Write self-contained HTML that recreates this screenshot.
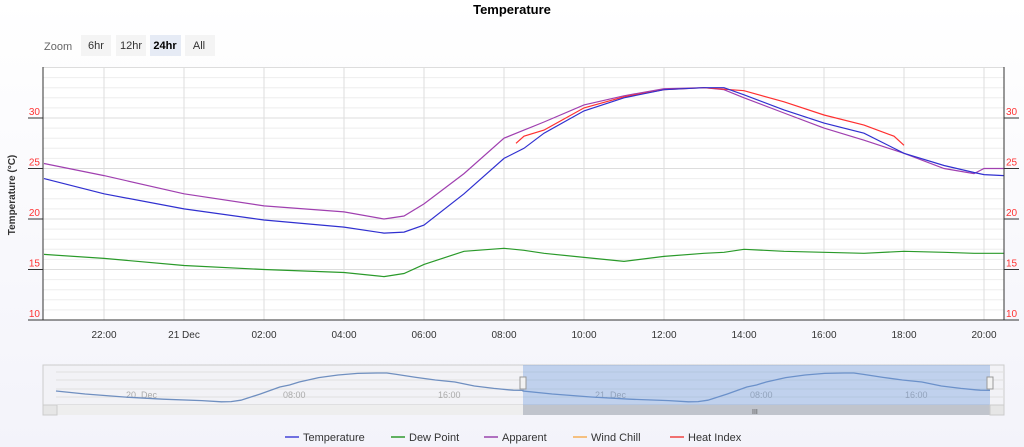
<!DOCTYPE html>
<html><head><meta charset="utf-8"><style>
body{margin:0;width:1024px;height:447px;background:linear-gradient(#fff,#f3f3fa);font-family:"Liberation Sans",sans-serif;overflow:hidden}
svg{position:absolute;left:0;top:0}
</style></head><body>
<svg width="1024" height="447" id="c">
<defs><clipPath id="pc"><rect x="43" y="67" width="961" height="253"/></clipPath></defs>
<text x="512" y="14" text-anchor="middle" font-size="13" font-weight="bold" fill="#000">Temperature</text>
<text x="44" y="50" font-size="11" fill="#666">Zoom</text>
<g><rect x="81" y="35" width="30" height="21" fill="#f4f4f4"/><text x="96" y="49" text-anchor="middle" font-size="11" fill="#333">6hr</text></g>
<g><rect x="116" y="35" width="30" height="21" fill="#f4f4f4"/><text x="131" y="49" text-anchor="middle" font-size="11" fill="#333">12hr</text></g>
<g><rect x="150" y="35" width="31" height="21" fill="#e6ebf5"/><text x="165" y="49" text-anchor="middle" font-size="11" font-weight="bold" fill="#000">24hr</text></g>
<g><rect x="185" y="35" width="30" height="21" fill="#f4f4f4"/><text x="199" y="49" text-anchor="middle" font-size="11" fill="#333">All</text></g>
<rect x="43" y="67" width="961" height="253" fill="#fff"/>
<g id="grid"></g><g id="series" clip-path="url(#pc)"></g><g id="axes"></g>
<text transform="translate(15,195) rotate(-90)" text-anchor="middle" font-size="10" font-weight="bold" fill="#333">Temperature (°C)</text>
<g>
<rect x="43" y="365" width="961" height="40" fill="#f2f2f6" stroke="#ccc"/>
<g stroke="#e0e0e0"><line x1="56" y1="372" x2="1004" y2="372"/><line x1="56" y1="380" x2="1004" y2="380"/><line x1="56" y1="389" x2="1004" y2="389"/><line x1="56" y1="397" x2="1004" y2="397"/></g>
<g font-size="9" fill="#aaa"><text x="126" y="398">20. Dec</text><text x="283" y="398">08:00</text><text x="438" y="398">16:00</text><text x="595" y="398">21. Dec</text><text x="750" y="398">08:00</text><text x="905" y="398">16:00</text></g>
<path id="navline" fill="none" stroke="#6f8fc0" stroke-width="1.3" clip-path="url(#nc)"/>
<clipPath id="nc"><rect x="43" y="365" width="961" height="40"/></clipPath>
<rect x="523" y="365" width="467" height="40" fill="rgba(100,150,220,0.35)"/>
<rect x="520" y="377" width="6" height="12" fill="#f2f2f2" stroke="#999"/>
<rect x="987" y="377" width="6" height="12" fill="#f2f2f2" stroke="#999"/>
<rect x="43" y="405" width="961" height="10" fill="#eee"/>
<rect x="523" y="405" width="467" height="10" fill="#c0c4cc"/>
<rect x="43" y="405" width="14" height="10" fill="#e6e6e6" stroke="#ccc"/><rect x="990" y="405" width="14" height="10" fill="#e6e6e6" stroke="#ccc"/>
<text x="752" y="414" font-size="7" fill="#555">III</text>
</g>
<g id="legend" font-size="11" fill="#333"></g>
</svg>
<script>
const hours=[20.5,22,24,26,28,29,29.5,30,31,32,32.5,33,34,35,36,37,37.5,38,39,40,41,42,43,43.75,44,44.5];
const temperature=[24,22.5,21,19.9,19.2,18.6,18.7,19.4,22.5,26,27,28.5,30.7,32,32.8,33,33,32.3,30.8,29.5,28.5,26.5,25.3,24.6,24.4,24.3];
const apparent=[25.5,24.3,22.5,21.3,20.7,20,20.3,21.5,24.5,28,28.8,29.6,31.3,32.2,32.9,33,32.8,32,30.5,29,27.8,26.5,25,24.5,25,25];
const dewPoint=[16.5,16.1,15.4,15,14.7,14.3,14.6,15.5,16.8,17.1,16.9,16.6,16.2,15.8,16.3,16.6,16.7,17,16.8,16.7,16.6,16.8,16.7,16.6,16.6,16.6];
const heatHours=[32.3,32.5,33,34,35,36,37,38,39,40,41,41.75,42];
const heatIndex=[27.5,28.2,28.8,31,32.1,32.8,33,32.7,31.6,30.3,29.3,28.2,27.3];
const yTicks=[10,15,20,25,30];
const xTickHours=[22,24,26,28,30,32,34,36,38,40,42,44];
const xTickLabels=["22:00","21 Dec","02:00","04:00","06:00","08:00","10:00","12:00","14:00","16:00","18:00","20:00"];
const NS="http://www.w3.org/2000/svg";
const X=h=>104+(h-22)*40, Y=v=>320-(v-10)*10.1;
function mk(t,a,p){const e=document.createElementNS(NS,t);for(const k in a)e.setAttribute(k,a[k]);p.appendChild(e);return e;}
const grid=document.getElementById('grid'),axes=document.getElementById('axes'),series=document.getElementById('series');
for(let v=10;v<=35;v++){const l=mk('line',{x1:43,x2:1004,y1:Y(v),y2:Y(v),stroke:v%5?'#eee':'#ddd'},grid);

}
xTickHours.forEach((h,i)=>{const l=mk('line',{x1:X(h),x2:X(h),y1:67,y2:320,stroke:'#ddd'},grid);


const t=mk('text',{x:X(h),y:338,'text-anchor':'middle','font-size':10,fill:'#333'},axes);t.textContent=xTickLabels[i];

});
yTicks.forEach(v=>{[[40,'end',28],[1006,'start',1004]].forEach(([tx,an,lx])=>{const t=mk('text',{x:tx,y:Y(v)-3,'text-anchor':an,'font-size':10,fill:'#f33'},axes);t.textContent=v;


mk('line',{x1:lx,x2:lx+15,y1:Y(v),y2:Y(v),stroke:'#333'},axes);});});
mk('line',{x1:43,x2:43,y1:67,y2:320,stroke:'#333'},axes);mk('line',{x1:1004,x2:1004,y1:67,y2:320,stroke:'#333'},axes);
mk('line',{x1:43,x2:1004,y1:320,y2:320,stroke:'#333'},axes);
function path(xs,ys){return xs.map((h,i)=>(i?'L':'M')+X(h).toFixed(1)+','+Y(ys[i]).toFixed(1)).join('');}
[[hours,dewPoint,'#2a9a2a','dew-point-line'],[hours,apparent,'#a040b0','apparent-line'],[heatHours,heatIndex,'#ff3030','heat-index-line'],[hours,temperature,'#3030d0','temperature-line']].forEach(([xs,ys,c,n])=>{
const p=mk('path',{d:path(xs,ys),fill:'none',stroke:c,'stroke-width':1.2},series);

});
let nd='';const NW=(990-523)/24;
[0,1].forEach(d=>hours.forEach((h,i)=>{const x=523-(24-d*24)*NW+(h-20.5)*NW;if(x<43)return;const y=405-(temperature[i]-17)*2.0;nd+=(nd?'L':'M')+x.toFixed(1)+','+y.toFixed(1);}));
document.getElementById('navline').setAttribute('d',nd);
const leg=document.getElementById('legend');
[['Temperature','#7070e0',285],['Dew Point','#60b060',391],['Apparent','#b070c0',484],['Wind Chill','#f5c080',573],['Heat Index','#f07070',670]].forEach(([n,c,x])=>{
const g=mk('g',{},leg);


mk('line',{x1:x,x2:x+14,y1:437,y2:437,stroke:c,'stroke-width':2},g);
const t=mk('text',{x:x+18,y:441},g);t.textContent=n;});
</script>
</body></html>
